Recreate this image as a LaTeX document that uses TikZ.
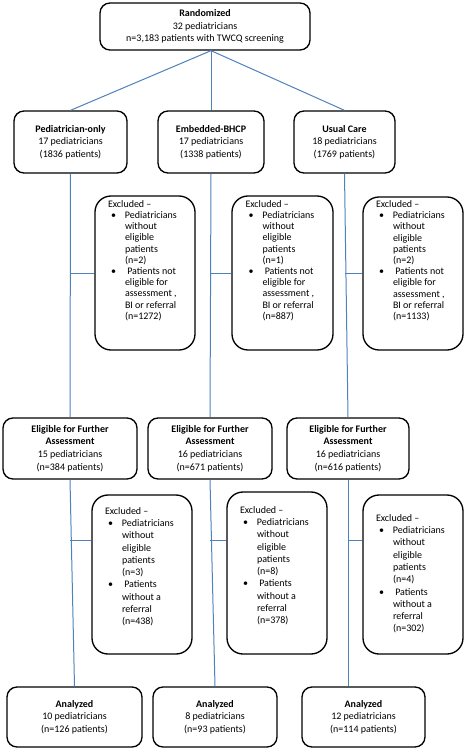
\documentclass[tikz,border=0pt]{standalone}
\usepackage{xcolor}
\usepackage{fontspec}
\setmainfont{Carlito}
\usepackage{tikz}
\usetikzlibrary{positioning}

\definecolor{linkblue}{RGB}{79,129,189}

% box with the list of exclusions, text set from the top
% #1 height, #2 gap above, #3 line skip, #4 list rows
\newcommand{\exclnote}[4]{%
\begin{minipage}[c][#1][t]{75pt}%
\fontsize{7.5}{#3}\selectfont
\vspace*{#2}%
\hspace*{9.75pt}Excluded --\par
\begin{tabular}[t]{@{\hspace*{12pt}}p{10.5pt}@{}l@{}}
#4
\end{tabular}%
\end{minipage}}

\tikzset{
  flowbox/.style={draw, line width=1pt, rounded corners=7.5pt, align=center,
    inner sep=2pt, font=\fontsize{7.5}{9.4}\selectfont},
  exclbox/.style={draw, line width=1pt, rounded corners=12pt, inner sep=0pt,
    minimum width=75pt},
  link/.style={draw=linkblue, line width=0.75pt},
}

\begin{document}
\begin{tikzpicture}[x=0.75pt,y=0.75pt,yscale=-1,xscale=1]
\useasboundingbox (0,0) rectangle (467,750);

%Rounded Rect [top]
\node [flowbox, minimum width=157.5pt, minimum height=35.25pt] (rand) at (205,26.5)
  {\textbf{Randomized}\\32 pediatricians\\n=3,183 patients with TWCQ screening};

%Rounded Rect [arms]
\node [flowbox, minimum width=84.75pt, minimum height=46.5pt] (pedonly) at (70.5,142)
  {\textbf{Pediatrician-only}\\17 pediatricians\\(1836 patients)};
\node [flowbox, minimum width=79.5pt, minimum height=46.5pt] (embed) at (211,142)
  {\textbf{Embedded-BHCP}\\17 pediatricians\\(1338 patients)};
\node [flowbox, minimum width=75.75pt, minimum height=46.5pt] (usual) at (344.5,142)
  {\textbf{Usual Care}\\18 pediatricians\\(1769 patients)};

%Rounded Rect [first exclusions]
\node [exclbox, minimum height=115.5pt] (exclPa) at (145,273)
  {\exclnote{115.5pt}{3.3pt}{8.4pt}{%
  \textbullet & Pediatricians\\ & without\\ & eligible\\ & patients\\ & (n=2)\\
  \textbullet & \ Patients not\\ & eligible for\\ & assessment ,\\ & BI or referral\\ & (n=1272)}};
\node [exclbox, minimum width=75.75pt, minimum height=115.5pt] (exclEa) at (282.5,273)
  {\exclnote{115.5pt}{3.3pt}{8.4pt}{%
  \textbullet & Pediatricians\\ & without\\ & eligible\\ & patients\\ & (n=1)\\
  \textbullet & \ Patients not\\ & eligible for\\ & assessment ,\\ & BI or referral\\ & (n=887)}};
\node [exclbox, minimum height=114.75pt] (exclUa) at (413,273.5)
  {\exclnote{114.75pt}{2.6pt}{8.4pt}{%
  \textbullet & Pediatricians\\ & without\\ & eligible\\ & patients\\ & (n=2)\\
  \textbullet & \ Patients not\\ & eligible for\\ & assessment ,\\ & BI or referral\\ & (n=1133)}};

%Rounded Rect [eligible]
\node [flowbox, minimum width=100.5pt, minimum height=45.75pt] (eligP) at (70,448.5)
  {\textbf{Eligible for Further}\\\textbf{Assessment}\\15 pediatricians\\(n=384 patients)};
\node [flowbox, minimum width=93pt, minimum height=45.75pt] (eligE) at (210,448.5)
  {\textbf{Eligible for Further}\\\textbf{Assessment}\\16 pediatricians\\(n=671 patients)};
\node [flowbox, minimum width=91.5pt, minimum height=45.75pt] (eligU) at (348,448.5)
  {\textbf{Eligible for Further}\\\textbf{Assessment}\\16 pediatricians\\(n=616 patients)};

%Rounded Rect [second exclusions]
\node [exclbox, minimum height=119.25pt] (exclPb) at (142,574.5)
  {\exclnote{119.25pt}{9.3pt}{9.2pt}{%
  \textbullet & Pediatricians\\ & without\\ & eligible\\ & patients\\ & (n=3)\\
  \textbullet & \ Patients\\ & without a\\ & referral\\ & (n=438)}};
\node [exclbox, minimum height=121.5pt] (exclEb) at (277,573)
  {\exclnote{121.5pt}{10.8pt}{9.2pt}{%
  \textbullet & Pediatricians\\ & without\\ & eligible\\ & patients\\ & (n=8)\\
  \textbullet & \ Patients\\ & without a\\ & referral\\ & (n=378)}};
\node [exclbox, minimum height=119.25pt] (exclUb) at (413,574.5)
  {\exclnote{119.25pt}{14.6pt}{9.2pt}{%
  \textbullet & Pediatricians\\ & without\\ & eligible\\ & patients\\ & (n=4)\\
  \textbullet & \ Patients\\ & without a\\ & referral\\ & (n=302)}};

%Rounded Rect [analyzed]
\node [flowbox, minimum width=101.25pt, minimum height=45pt] (analP) at (74.5,717)
  {\textbf{Analyzed}\\10 pediatricians\\(n=126 patients)};
\node [flowbox, minimum width=93pt, minimum height=45pt] (analE) at (215,717)
  {\textbf{Analyzed}\\8 pediatricians\\(n=93 patients)};
\node [flowbox, minimum width=92.25pt, minimum height=45pt] (analU) at (363.5,717)
  {\textbf{Analyzed}\\12 pediatricians\\(n=114 patients)};

%Straight Lines
\coordinate (split) at (rand.south -| embed.north);
\draw [link] (split) -- (pedonly.north);
\draw [link] (split) -- (embed.north);
\draw [link] (split) -- (usual.north);

\draw [link] (pedonly.south) -- (eligP.north);
\draw [link] (embed.south) -- (eligE.north);
\draw [link] (usual.south) -- (eligU.north);
\draw [link] (eligP.south) -- (analP.north);
\draw [link] (eligE.south) -- (analE.north);
\draw [link] (eligU.south) -- (eligU.south |- analU.north);

\draw [link] (pedonly.south |- exclPa.west) -- (exclPa.west);
\draw [link] (embed.south |- exclEa.west) -- (exclEa.west);
\draw [link] (usual.south |- exclUa.west) -- (exclUa.west);

\draw [link] (eligP.south |- 0,540) -- (exclPb.west |- 0,540);
\draw [link] (eligE.south |- 0,540) -- (exclEb.west |- 0,540);
\draw [link] (eligU.south |- 0,540) -- (exclUb.west |- 0,540);

\end{tikzpicture}
\end{document}
